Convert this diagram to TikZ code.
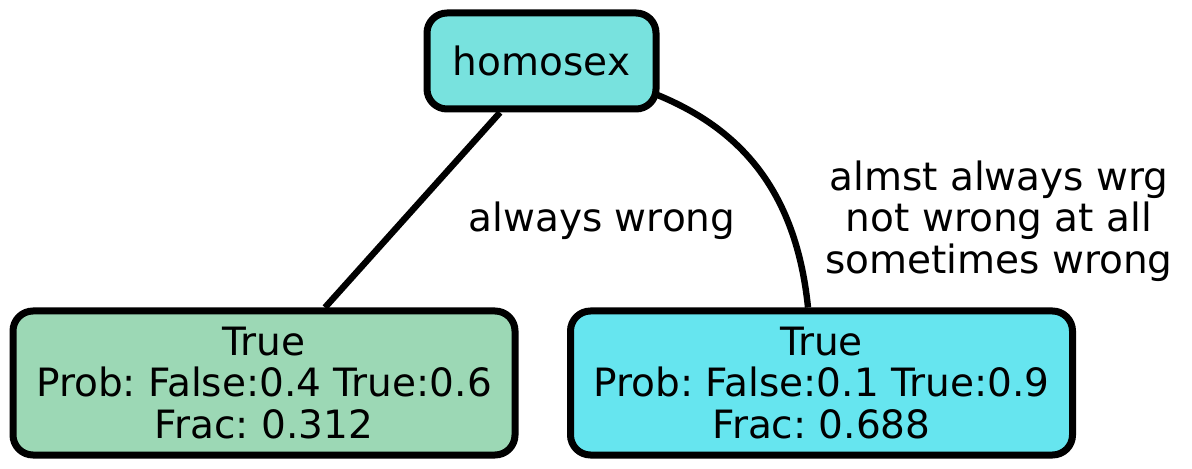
\documentclass[tikz,border=0pt]{standalone}
\usepackage{fontspec}
\setmainfont{DejaVu Sans}
\usepackage{xcolor}
\usepackage{tikz}
\usetikzlibrary{positioning, calc, backgrounds}
\definecolor{tTop}{HTML}{78E2DE}
\definecolor{tLeft}{HTML}{9CD8B5}
\definecolor{tRight}{HTML}{66E5EF}
\frenchspacing

\begin{document}
\begin{tikzpicture}[
  x=0.5pt, y=-0.5pt,
  every node/.style={font=\fontsize{19.5}{20.8}\selectfont},
  leaf/.style={rectangle, rounded corners=10pt, draw=black, line width=3.5pt,
               minimum width=251pt, minimum height=72pt, align=center, inner sep=0pt},
  edge/.style={draw=black, line width=3.2pt},
  elabel/.style={align=center, inner sep=0pt}
]
\useasboundingbox (0,0) rectangle (1192,469);

\node[leaf, fill=tTop, minimum width=114.5pt, minimum height=48pt]
  (root) at (541.5,61) {homosex};
\node[leaf, fill=tLeft]
  (yes) at (264,383) {True\\Prob: False:0.4 True:0.6\\Frac: 0.312};
\node[leaf, fill=tRight]
  (no) at (821.5,383) {True\\Prob: False:0.1 True:0.9\\Frac: 0.688};

\begin{scope}[on background layer]
  \draw[edge] ($(root.south)+(-41.5,0)$) -- ($(yes.north)+(61,0)$);
  \draw[edge] ($(root.east)+(-2,34)$)
    .. controls (730,125) and (795,180) .. ($(no.north)+(-13.5,0)$);
\end{scope}

\node[elabel] (lblyes) at (602,221) {always wrong};
\node[elabel] (lblno) at (999,221)
  {almst always wrg\\not wrong at all\\sometimes wrong};
\end{tikzpicture}
\end{document}
